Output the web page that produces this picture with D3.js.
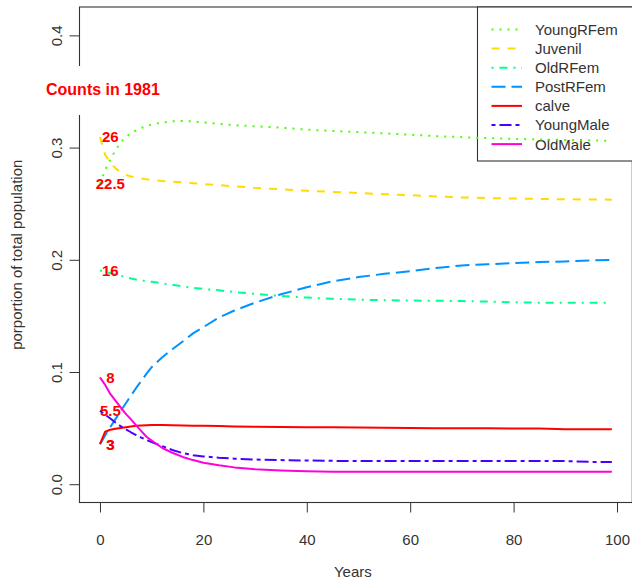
<!DOCTYPE html>
<html>
<head>
<meta charset="utf-8">
<script src="https://cdn.jsdelivr.net/npm/d3@7"></script>
<style>
  html, body { margin: 0; padding: 0; background: #fff; }
  svg { display: block; font-family: "Liberation Sans", Arial, sans-serif; }
</style>
</head>
<body>
<svg id="chart" width="632" height="585"></svg>
<script>
// Projected herd structure (proportion of total population) over 100 years
const years = [0,1,2,3,4,5,6,7,8,9,10,12,14,16,18,20,23,26,30,35,40,45,50,55,60,65,70,75,80,85,90,95,99];

const youngRFem = [0.2679,0.2800,0.2895,0.2975,0.3045,0.3096,0.3128,0.3155,0.3175,0.3192,0.3205,0.3224,0.3234,0.3238,0.3234,0.3225,0.3211,0.3200,0.3190,0.3178,0.3160,0.3148,0.3138,0.3127,0.3115,0.3102,0.3093,0.3085,0.3078,0.3072,0.3068,0.3064,0.3060];
const juvenil   = [0.3095,0.2935,0.2870,0.2815,0.2782,0.2757,0.2742,0.2733,0.2724,0.2717,0.2712,0.2703,0.2696,0.2690,0.2683,0.2675,0.2665,0.2655,0.2641,0.2628,0.2615,0.2605,0.2595,0.2585,0.2576,0.2565,0.2556,0.2550,0.2546,0.2542,0.2540,0.2537,0.2536];
const oldRFem   = [0.1905,0.1893,0.1881,0.1869,0.1858,0.1845,0.1834,0.1824,0.1816,0.1810,0.1804,0.1790,0.1777,0.1763,0.1750,0.1740,0.1728,0.1712,0.1696,0.1678,0.1663,0.1652,0.1645,0.1640,0.1637,0.1635,0.1632,0.1628,0.1621,0.1618,0.1617,0.1617,0.1617];
const postRFem  = [0.0357,0.0435,0.0510,0.0580,0.0652,0.0722,0.0790,0.0858,0.0920,0.0985,0.1043,0.1130,0.1203,0.1272,0.1344,0.1400,0.1485,0.1548,0.1618,0.1693,0.1755,0.1808,0.1846,0.1875,0.1898,0.1927,0.1950,0.1960,0.1970,0.1980,0.1985,0.1995,0.1998];
const calve     = [0.0357,0.0468,0.0485,0.0494,0.0501,0.0508,0.0515,0.0520,0.0523,0.0525,0.0527,0.0527,0.0526,0.0524,0.0522,0.0520,0.0518,0.0515,0.0512,0.0510,0.0508,0.0507,0.0505,0.0503,0.0501,0.0499,0.0498,0.0498,0.0497,0.0496,0.0490,0.0489,0.0489];
const youngMale = [0.0655,0.0620,0.0585,0.0550,0.0517,0.0490,0.0463,0.0438,0.0415,0.0395,0.0375,0.0340,0.0305,0.0277,0.0259,0.0248,0.0236,0.0228,0.0220,0.0215,0.0211,0.0208,0.0207,0.0207,0.0207,0.0207,0.0207,0.0207,0.0207,0.0207,0.0206,0.0199,0.0198];
const oldMale   = [0.0952,0.0885,0.0805,0.0745,0.0685,0.0627,0.0578,0.0525,0.0473,0.0423,0.0390,0.0325,0.0280,0.0243,0.0215,0.0192,0.0168,0.0150,0.0134,0.0123,0.0116,0.0111,0.0110,0.0110,0.0110,0.0110,0.0110,0.0110,0.0110,0.0110,0.0110,0.0110,0.0110];

const seriesNames = ["YoungRFem","Juvenil","OldRFem","PostRFem","calve","YoungMale","OldMale"];
const seriesValues = [youngRFem, juvenil, oldRFem, postRFem, calve, youngMale, oldMale];
const seriesColors = ["#49FF00","#FFDB00","#00FF92","#0092FF","#FF0000","#4900FF","#FF00DB"];
const seriesDash = ["2,6","8,8","2,6,8,6","14,6",null,"4,4,12,4",null];

// Head counts at the start of the projection
const counts1981 = [22.5, 26, 16, 3, 3, 5.5, 8];
const labelYear = 2;

const xTicks = [0,20,40,60,80,100];
const yTicks = [0,0.1,0.2,0.3,0.4];

const titleText = "Counts in 1981";
const xTitle = "Years";
const yTitle = "porportion of total population";

const svg = d3.select("#chart");
const axisColor = "#333";

const x = d3.scaleLinear().domain([-3.96, 102.96]).range([79.5, 632.3]);
const y = d3.scaleLinear().domain([-0.0163, 0.4253]).range([502.5, 7]);

// Plot frame
const [x0, x1] = x.range();
const [y0, y1] = y.range();
svg.append("rect")
  .attr("x", x0).attr("y", y1)
  .attr("width", x1 - x0).attr("height", y0 - y1)
  .attr("fill", "none").attr("stroke", axisColor).attr("stroke-width", 1.1);

// X axis
const gx = svg.append("g")
  .attr("transform", `translate(0,${y0})`)
  .style("color", axisColor)
  .call(d3.axisBottom(x).tickValues(xTicks).tickSize(10).tickPadding(22).tickFormat(d3.format("d")));
gx.select(".domain").remove();
gx.selectAll("text").attr("font-size", 15).attr("font-family", "Liberation Sans, Arial, sans-serif");

// Y axis with rotated labels
const gy = svg.append("g")
  .attr("transform", `translate(${x0},0)`)
  .style("color", axisColor)
  .call(d3.axisLeft(y).tickValues(yTicks).tickSize(10).tickFormat(d3.format(".1f")));
gy.select(".domain").remove();
gy.selectAll("text")
  .attr("x", null).attr("dy", null)
  .attr("text-anchor", "middle")
  .attr("transform", "translate(-18,0) rotate(-90)")
  .attr("font-size", 15).attr("font-family", "Liberation Sans, Arial, sans-serif");

// Axis titles
svg.append("text")
  .attr("x", (x0 + x1) / 2 - 3).attr("y", 577)
  .attr("text-anchor", "middle")
  .attr("font-size", 15).attr("fill", axisColor)
  .text(xTitle);

svg.append("text")
  .attr("transform", `translate(22,${(y0 + y1) / 2}) rotate(-90)`)
  .attr("text-anchor", "middle")
  .attr("font-size", 15).attr("fill", axisColor)
  .text(yTitle);

// Legend (top right)
const legend = svg.append("g");
const legLeft = 477, legTop = y1, legBottom = 161, rowH = 19.1, row0 = 29.5;
legend.append("rect")
  .attr("x", legLeft + 0.5).attr("y", legTop)
  .attr("width", 700 - legLeft).attr("height", legBottom - legTop)
  .attr("fill", "#fff").attr("stroke", axisColor).attr("stroke-width", 1.1);
seriesNames.forEach((name, i) => {
  const cy = row0 + i * rowH;
  legend.append("line")
    .attr("x1", 491.5).attr("x2", 522).attr("y1", cy).attr("y2", cy)
    .attr("stroke", seriesColors[i]).attr("stroke-width", 2)
    .attr("stroke-dasharray", seriesDash[i]);
  legend.append("text")
    .attr("x", 535).attr("y", cy).attr("dy", "0.36em")
    .attr("font-size", 15).attr("fill", axisColor)
    .text(name);
});

// Series lines
const line = d3.line()
  .x((d, i) => x(years[i]))
  .y(d => y(d));
seriesValues.forEach((vals, i) => {
  svg.append("path")
    .datum(vals)
    .attr("d", line)
    .attr("fill", "none")
    .attr("stroke", seriesColors[i])
    .attr("stroke-width", 2)
    .attr("stroke-linejoin", "round")
    .attr("stroke-dasharray", seriesDash[i]);
});

// Title on a white backing
svg.append("rect")
  .attr("x", 40).attr("y", 66).attr("width", 126).attr("height", 49)
  .attr("fill", "#fff");
svg.append("text")
  .attr("x", 46).attr("y", 94.5)
  .attr("font-size", 16).attr("font-weight", "bold").attr("fill", "#FF0000")
  .text(titleText);

// Starting counts written at each series' opening value
seriesValues.forEach((vals, i) => {
  svg.append("text")
    .attr("x", x(labelYear)).attr("y", y(vals[0])).attr("dy", "0.36em")
    .attr("text-anchor", "middle")
    .attr("font-size", 15).attr("font-weight", "bold").attr("fill", "#FF0000")
    .text(counts1981[i]);
});
</script>
</body>
</html>
